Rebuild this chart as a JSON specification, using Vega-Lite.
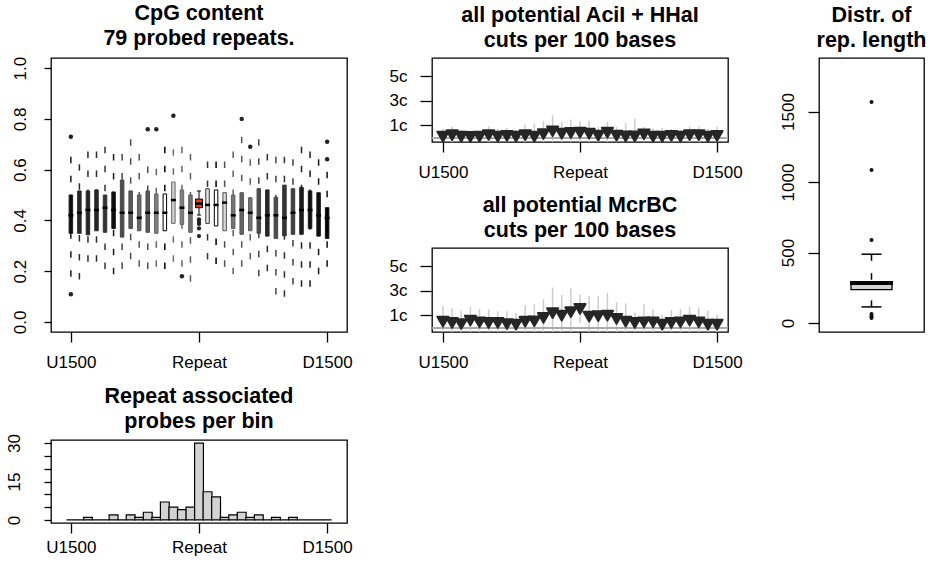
{
  "$schema": "https://vega.github.io/schema/vega-lite/v6.json",
  "padding": {"left": 4, "top": 2, "right": 0, "bottom": 0},
  "autosize": {"type": "pad"},
  "background": "white",
  "config": {
    "view": {"stroke": "#000000", "strokeWidth": 1.3},
    "axis": {"grid": false, "domain": false, "labelFont": "Liberation Sans", "labelFontSize": 17, "labelColor": "#000000", "tickColor": "#000000", "tickWidth": 1.3, "labelFlush": false, "labelOverlap": false},
    "title": {"font": "Liberation Sans", "fontSize": 21.5, "fontWeight": "bold", "color": "#000000", "lineHeight": 25, "anchor": "middle", "frame": "group", "offset": 7}
  },
  "datasets": {
    "cpg": [
      {"bin":1,"lo":0.178,"q1":0.349,"med":0.42,"q3":0.50,"hi":0.651,"level":0.05},
      {"bin":2,"lo":0.167,"q1":0.349,"med":0.43,"q3":0.516,"hi":0.621,"level":0.15},
      {"bin":3,"lo":0.237,"q1":0.343,"med":0.441,"q3":0.516,"hi":0.671,"level":0.15},
      {"bin":4,"lo":0.237,"q1":0.359,"med":0.441,"q3":0.52,"hi":0.671,"level":0.15},
      {"bin":5,"lo":0.208,"q1":0.353,"med":0.45,"q3":0.50,"hi":0.69,"level":0.2},
      {"bin":6,"lo":0.188,"q1":0.368,"med":0.441,"q3":0.512,"hi":0.662,"level":0.05},
      {"bin":7,"lo":0.208,"q1":0.334,"med":0.43,"q3":0.559,"hi":0.662,"level":0.3},
      {"bin":8,"lo":0.247,"q1":0.368,"med":0.43,"q3":0.516,"hi":0.72,"level":0.35},
      {"bin":9,"lo":0.217,"q1":0.359,"med":0.41,"q3":0.50,"hi":0.662,"level":0.4},
      {"bin":10,"lo":0.208,"q1":0.353,"med":0.43,"q3":0.516,"hi":0.612,"level":0.35},
      {"bin":11,"lo":0.217,"q1":0.349,"med":0.43,"q3":0.504,"hi":0.603,"level":0.5},
      {"bin":12,"lo":0.208,"q1":0.359,"med":0.43,"q3":0.504,"hi":0.69,"level":1.0},
      {"bin":13,"lo":0.237,"q1":0.388,"med":0.48,"q3":0.551,"hi":0.68,"level":0.8},
      {"bin":14,"lo":0.217,"q1":0.384,"med":0.45,"q3":0.52,"hi":0.69,"level":0.5},
      {"bin":15,"lo":0.158,"q1":0.353,"med":0.43,"q3":0.50,"hi":0.662,"level":0.45},
      {"bin":17,"lo":0.246,"q1":0.388,"med":0.461,"q3":0.525,"hi":0.632,"level":0.9},
      {"bin":18,"lo":0.228,"q1":0.378,"med":0.461,"q3":0.52,"hi":0.632,"level":1.0},
      {"bin":19,"lo":0.217,"q1":0.359,"med":0.47,"q3":0.509,"hi":0.632,"level":0.85},
      {"bin":20,"lo":0.188,"q1":0.368,"med":0.42,"q3":0.50,"hi":0.671,"level":0.45},
      {"bin":21,"lo":0.217,"q1":0.345,"med":0.441,"q3":0.509,"hi":0.73,"level":0.4},
      {"bin":22,"lo":0.246,"q1":0.359,"med":0.43,"q3":0.489,"hi":0.641,"level":0.45},
      {"bin":23,"lo":0.18,"q1":0.349,"med":0.41,"q3":0.525,"hi":0.72,"level":0.3},
      {"bin":24,"lo":0.199,"q1":0.338,"med":0.42,"q3":0.52,"hi":0.662,"level":0.15},
      {"bin":25,"lo":0.108,"q1":0.329,"med":0.42,"q3":0.491,"hi":0.651,"level":0.3},
      {"bin":26,"lo":0.099,"q1":0.339,"med":0.41,"q3":0.539,"hi":0.651,"level":0.2},
      {"bin":27,"lo":0.147,"q1":0.345,"med":0.43,"q3":0.525,"hi":0.641,"level":0.25},
      {"bin":28,"lo":0.138,"q1":0.345,"med":0.441,"q3":0.53,"hi":0.69,"level":0.1},
      {"bin":29,"lo":0.138,"q1":0.368,"med":0.441,"q3":0.516,"hi":0.671,"level":0.05},
      {"bin":30,"lo":0.188,"q1":0.338,"med":0.42,"q3":0.509,"hi":0.641,"level":0.05},
      {"bin":31,"lo":0.217,"q1":0.329,"med":0.41,"q3":0.45,"hi":0.592,"level":0.0}
    ],
    "cpgOut": [
      {"bin":1,"value":0.73},{"bin":1,"value":0.109},{"bin":10,"value":0.759},{"bin":11,"value":0.759},
      {"bin":13,"value":0.812},{"bin":14,"value":0.18},{"bin":21,"value":0.80},{"bin":22,"value":0.69},
      {"bin":31,"value":0.71},{"bin":31,"value":0.641}
    ],
    "rep": [{"bin":16,"lo":0.421,"q1":0.45,"med":0.466,"q3":0.484,"hi":0.516}],
    "repOut": [{"bin":16,"value":0.404},{"bin":16,"value":0.395},{"bin":16,"value":0.386},{"bin":16,"value":0.368},{"bin":16,"value":0.338}],
    "aci": [
      {"bin":1,"v":0.10,"lo":-0.53,"hi":0.73},{"bin":2,"v":0.21,"lo":-0.50,"hi":0.92},{"bin":3,"v":0.10,"lo":-0.45,"hi":0.65},
      {"bin":4,"v":0.07,"lo":-0.41,"hi":0.55},{"bin":5,"v":0.10,"lo":-0.35,"hi":0.55},{"bin":6,"v":0.23,"lo":-0.49,"hi":0.95},
      {"bin":7,"v":0.10,"lo":-0.53,"hi":0.73},{"bin":8,"v":0.15,"lo":-0.50,"hi":0.80},{"bin":9,"v":0.10,"lo":-0.45,"hi":0.65},
      {"bin":10,"v":0.21,"lo":-0.66,"hi":1.08},{"bin":11,"v":0.10,"lo":-0.93,"hi":1.13},{"bin":12,"v":0.31,"lo":-0.71,"hi":1.33},
      {"bin":13,"v":0.53,"lo":-0.78,"hi":1.84},{"bin":14,"v":0.34,"lo":-0.62,"hi":1.30},{"bin":15,"v":0.40,"lo":-0.69,"hi":1.49},
      {"bin":16,"v":0.42,"lo":-0.49,"hi":1.33},{"bin":17,"v":0.34,"lo":-0.68,"hi":1.36},{"bin":18,"v":0.18,"lo":-0.54,"hi":0.90},
      {"bin":19,"v":0.42,"lo":-0.46,"hi":1.30},{"bin":20,"v":0.18,"lo":-0.51,"hi":0.87},{"bin":21,"v":0.12,"lo":-0.96,"hi":1.20},
      {"bin":22,"v":0.12,"lo":-1.30,"hi":1.54},{"bin":23,"v":0.29,"lo":-0.29,"hi":0.87},{"bin":24,"v":0.10,"lo":-0.53,"hi":0.73},
      {"bin":25,"v":0.10,"lo":-0.60,"hi":0.80},{"bin":26,"v":0.15,"lo":-0.43,"hi":0.73},{"bin":27,"v":0.10,"lo":-0.45,"hi":0.65},
      {"bin":28,"v":0.21,"lo":-0.50,"hi":0.92},{"bin":29,"v":0.21,"lo":-0.50,"hi":0.92},{"bin":30,"v":0.10,"lo":-0.53,"hi":0.73},
      {"bin":31,"v":0.15,"lo":-0.62,"hi":0.92}
    ],
    "mcr": [
      {"bin":1,"v":0.50,"lo":-0.76,"hi":1.76},{"bin":2,"v":0.40,"lo":-0.77,"hi":1.57},{"bin":3,"v":0.31,"lo":-0.79,"hi":1.41},
      {"bin":4,"v":0.59,"lo":-0.53,"hi":1.71},{"bin":5,"v":0.45,"lo":-0.59,"hi":1.49},{"bin":6,"v":0.40,"lo":-0.69,"hi":1.49},
      {"bin":7,"v":0.40,"lo":-0.55,"hi":1.35},{"bin":8,"v":0.31,"lo":-0.73,"hi":1.35},{"bin":9,"v":0.26,"lo":-0.70,"hi":1.22},
      {"bin":10,"v":0.50,"lo":-0.84,"hi":1.84},{"bin":11,"v":0.53,"lo":-0.84,"hi":1.90},{"bin":12,"v":0.80,"lo":-0.71,"hi":2.31},
      {"bin":13,"v":1.19,"lo":-0.88,"hi":3.26},{"bin":14,"v":0.99,"lo":-0.68,"hi":2.66},{"bin":15,"v":1.27,"lo":-0.64,"hi":3.18},
      {"bin":16,"v":1.54,"lo":0.37,"hi":2.71},{"bin":17,"v":0.91,"lo":-0.76,"hi":2.58},{"bin":18,"v":0.94,"lo":-0.70,"hi":2.58},
      {"bin":19,"v":0.99,"lo":-0.87,"hi":2.85},{"bin":20,"v":0.72,"lo":-0.65,"hi":2.09},{"bin":21,"v":0.50,"lo":-0.98,"hi":1.98},
      {"bin":22,"v":0.40,"lo":-0.42,"hi":1.22},{"bin":23,"v":0.45,"lo":-1.00,"hi":1.90},{"bin":24,"v":0.45,"lo":-0.59,"hi":1.49},
      {"bin":25,"v":0.26,"lo":-0.51,"hi":1.03},{"bin":26,"v":0.40,"lo":-0.64,"hi":1.44},{"bin":27,"v":0.45,"lo":-0.59,"hi":1.49},
      {"bin":28,"v":0.59,"lo":-0.53,"hi":1.71},{"bin":29,"v":0.45,"lo":-0.73,"hi":1.63},{"bin":30,"v":0.26,"lo":-0.89,"hi":1.41},
      {"bin":31,"v":0.26,"lo":-0.51,"hi":1.03}
    ],
    "len": [{"g":1,"lo":114,"q1":237,"med":284,"q3":287,"hi":488}],
    "lenOut": [{"g":1,"value":1567},{"g":1,"value":1086},{"g":1,"value":588},{"g":1,"value":64},{"g":1,"value":47},{"g":1,"value":36}],
    "hist": [
      {"bin":1,"count":0},{"bin":2,"count":0},{"bin":3,"count":1},{"bin":4,"count":0},{"bin":5,"count":0},
      {"bin":6,"count":2},{"bin":7,"count":0},{"bin":8,"count":2},{"bin":9,"count":1},{"bin":10,"count":3},
      {"bin":11,"count":1},{"bin":12,"count":7},{"bin":13,"count":5},{"bin":14,"count":4},{"bin":15,"count":5},
      {"bin":16,"count":30},{"bin":17,"count":11},{"bin":18,"count":9},{"bin":19,"count":1},{"bin":20,"count":2},
      {"bin":21,"count":3},{"bin":22,"count":1},{"bin":23,"count":2},{"bin":24,"count":0},{"bin":25,"count":1},
      {"bin":26,"count":0},{"bin":27,"count":1},{"bin":28,"count":0},{"bin":29,"count":0},{"bin":30,"count":0},
      {"bin":31,"count":0}
    ]
  },
  "spacing": 35,
  "hconcat": [
    {
      "bounds": "flush",
      "spacing": 108,
      "vconcat": [
        {
          "width": 296,
          "height": 274,
          "title": {"text": ["CpG content", "79 probed repeats."]},
          "layer": [
            {
              "data": {"name": "cpg"},
              "mark": {"type": "rule", "strokeDash": [6.5, 12.5], "strokeWidth": 1.5},
              "encoding": {
                "x": {"field": "bin", "type": "quantitative", "title": null,
                      "scale": {"domain": [-0.74, 32.74], "nice": false, "zero": false},
                      "axis": {"values": [1, 16, 31], "labelExpr": "datum.value == 1 ? 'U1500' : datum.value == 16 ? 'Repeat' : 'D1500'", "tickSize": 10, "labelPadding": 12}},
                "y": {"field": "hi", "type": "quantitative", "title": null,
                      "scale": {"domain": [-0.04, 1.04], "nice": false, "zero": false},
                      "axis": {"values": [0, 0.2, 0.4, 0.6, 0.8, 1], "format": ".1f", "labelAngle": -90, "labelAlign": "center", "labelBaseline": "bottom", "tickSize": 7, "labelPadding": 15}},
                "y2": {"field": "q3"},
                "stroke": {"field": "level", "type": "quantitative", "legend": null,
                           "scale": {"domain": [0, 0.6, 0.75, 0.9, 1], "range": ["#111111", "#777777", "#8a8a8a", "#333333", "#000000"], "interpolate": "rgb"}}
              }
            },
            {
              "data": {"name": "cpg"},
              "mark": {"type": "rule", "strokeDash": [6.5, 12.5], "strokeWidth": 1.5},
              "encoding": {
                "x": {"field": "bin", "type": "quantitative", "title": null},
                "y": {"field": "lo", "type": "quantitative", "title": null},
                "y2": {"field": "q1"},
                "stroke": {"field": "level", "type": "quantitative", "legend": null,
                           "scale": {"domain": [0, 0.6, 0.75, 0.9, 1], "range": ["#111111", "#777777", "#8a8a8a", "#333333", "#000000"], "interpolate": "rgb"}}
              }
            },
            {
              "data": {"name": "cpg"},
              "mark": {"type": "bar", "width": 3.5, "strokeWidth": 1},
              "encoding": {
                "x": {"field": "bin", "type": "quantitative", "title": null},
                "y": {"field": "q1", "type": "quantitative", "title": null},
                "y2": {"field": "q3"},
                "fill": {"field": "level", "type": "quantitative", "legend": null,
                         "scale": {"domain": [0, 1], "range": ["#000000", "#ffffff"], "interpolate": "rgb"}},
                "stroke": {"field": "level", "type": "quantitative", "legend": null,
                           "scale": {"domain": [0, 0.6, 0.75, 0.9, 1], "range": ["#111111", "#777777", "#8a8a8a", "#333333", "#000000"], "interpolate": "rgb"}}
              }
            },
            {
              "data": {"name": "cpg"},
              "mark": {"type": "tick", "orient": "horizontal", "size": 5, "thickness": 2.5, "color": "#000000", "opacity": 1},
              "encoding": {
                "x": {"field": "bin", "type": "quantitative", "title": null},
                "y": {"field": "med", "type": "quantitative", "title": null}
              }
            },
            {
              "data": {"name": "cpgOut"},
              "mark": {"type": "point", "filled": true, "size": 20, "color": "#222222", "opacity": 1},
              "encoding": {
                "x": {"field": "bin", "type": "quantitative", "title": null},
                "y": {"field": "value", "type": "quantitative", "title": null}
              }
            },
            {
              "data": {"name": "rep"},
              "mark": {"type": "rule", "color": "#000000", "strokeWidth": 1},
              "encoding": {
                "x": {"field": "bin", "type": "quantitative", "title": null},
                "y": {"field": "lo", "type": "quantitative", "title": null},
                "y2": {"field": "hi"}
              }
            },
            {
              "data": {"name": "rep"},
              "mark": {"type": "tick", "orient": "horizontal", "size": 4, "thickness": 1, "color": "#000000", "opacity": 1},
              "encoding": {
                "x": {"field": "bin", "type": "quantitative", "title": null},
                "y": {"field": "hi", "type": "quantitative", "title": null}
              }
            },
            {
              "data": {"name": "rep"},
              "mark": {"type": "tick", "orient": "horizontal", "size": 4, "thickness": 1, "color": "#000000", "opacity": 1},
              "encoding": {
                "x": {"field": "bin", "type": "quantitative", "title": null},
                "y": {"field": "lo", "type": "quantitative", "title": null}
              }
            },
            {
              "data": {"name": "rep"},
              "mark": {"type": "bar", "width": 7, "fill": "#e63c1e", "stroke": "#000000", "strokeWidth": 1},
              "encoding": {
                "x": {"field": "bin", "type": "quantitative", "title": null},
                "y": {"field": "q1", "type": "quantitative", "title": null},
                "y2": {"field": "q3"}
              }
            },
            {
              "data": {"name": "rep"},
              "mark": {"type": "tick", "orient": "horizontal", "size": 7, "thickness": 2.5, "color": "#000000", "opacity": 1},
              "encoding": {
                "x": {"field": "bin", "type": "quantitative", "title": null},
                "y": {"field": "med", "type": "quantitative", "title": null}
              }
            },
            {
              "data": {"name": "repOut"},
              "mark": {"type": "point", "filled": true, "size": 18, "color": "#222222", "opacity": 1},
              "encoding": {
                "x": {"field": "bin", "type": "quantitative", "title": null},
                "y": {"field": "value", "type": "quantitative", "title": null}
              }
            }
          ]
        },
        {
          "width": 296,
          "height": 83,
          "title": {"text": ["Repeat associated", "probes per bin"], "offset": 1},
          "data": {"name": "hist"},
          "mark": {"type": "bar", "width": 8.84, "fill": "#d3d3d3", "stroke": "#000000", "strokeWidth": 1.2},
          "encoding": {
            "x": {"field": "bin", "type": "quantitative", "title": null,
                  "scale": {"domain": [-0.74, 32.74], "nice": false, "zero": false},
                  "axis": {"values": [1, 16, 31], "labelExpr": "datum.value == 1 ? 'U1500' : datum.value == 16 ? 'Repeat' : 'D1500'", "tickSize": 10, "labelPadding": 6}},
            "y": {"field": "count", "type": "quantitative", "title": null,
                  "scale": {"domain": [-1.2, 31.2], "nice": false, "zero": false},
                  "axis": {"values": [0, 5, 10, 15, 20, 25, 30], "labelExpr": "datum.value % 15 == 0 ? datum.label : ''", "labelAngle": -90, "labelAlign": "center", "labelBaseline": "bottom", "tickSize": 7, "labelPadding": 21}},
            "y2": {"datum": 0}
          }
        }
      ]
    },
    {
      "bounds": "flush",
      "spacing": 106,
      "vconcat": [
        {
          "width": 296,
          "height": 84,
          "title": {"text": ["all potential AciI + HHaI", "cuts per 100 bases"]},
          "data": {"name": "aci"},
          "layer": [
            {
              "mark": {"type": "rule", "color": "#cccccc", "strokeWidth": 1.5, "clip": true},
              "encoding": {
                "x": {"field": "bin", "type": "quantitative", "title": null,
                      "scale": {"domain": [-0.2, 32.2], "nice": false, "zero": false},
                      "axis": {"values": [1, 16, 31], "labelExpr": "datum.value == 1 ? 'U1500' : datum.value == 16 ? 'Repeat' : 'D1500'", "tickSize": 10, "labelPadding": 12}},
                "y": {"field": "lo", "type": "quantitative", "title": null,
                      "scale": {"domain": [-0.34, 6.47], "nice": false, "zero": false},
                      "axis": {"values": [1, 3, 5], "labelExpr": "datum.value + 'c'", "tickSize": 12, "labelPadding": 13}},
                "y2": {"field": "hi"}
              }
            },
            {
              "mark": {"type": "rule", "color": "#aaaaaa", "strokeWidth": 1},
              "encoding": {"y": {"datum": 0, "type": "quantitative"}}
            },
            {
              "mark": {"type": "point", "shape": "triangle-down", "filled": true, "size": 125, "color": "#262626", "stroke": "#262626", "strokeWidth": 2, "strokeJoin": "round", "opacity": 1},
              "encoding": {
                "x": {"field": "bin", "type": "quantitative", "title": null},
                "y": {"field": "v", "type": "quantitative", "title": null}
              }
            }
          ]
        },
        {
          "width": 296,
          "height": 84,
          "title": {"text": ["all potential McrBC", "cuts per 100 bases"]},
          "data": {"name": "mcr"},
          "layer": [
            {
              "mark": {"type": "rule", "color": "#cccccc", "strokeWidth": 1.5, "clip": true},
              "encoding": {
                "x": {"field": "bin", "type": "quantitative", "title": null,
                      "scale": {"domain": [-0.2, 32.2], "nice": false, "zero": false},
                      "axis": {"values": [1, 16, 31], "labelExpr": "datum.value == 1 ? 'U1500' : datum.value == 16 ? 'Repeat' : 'D1500'", "tickSize": 10, "labelPadding": 12}},
                "y": {"field": "lo", "type": "quantitative", "title": null,
                      "scale": {"domain": [-0.34, 6.47], "nice": false, "zero": false},
                      "axis": {"values": [1, 3, 5], "labelExpr": "datum.value + 'c'", "tickSize": 12, "labelPadding": 13}},
                "y2": {"field": "hi"}
              }
            },
            {
              "mark": {"type": "rule", "color": "#aaaaaa", "strokeWidth": 1},
              "encoding": {"y": {"datum": 0, "type": "quantitative"}}
            },
            {
              "mark": {"type": "point", "shape": "triangle-down", "filled": true, "size": 125, "color": "#262626", "stroke": "#262626", "strokeWidth": 2, "strokeJoin": "round", "opacity": 1},
              "encoding": {
                "x": {"field": "bin", "type": "quantitative", "title": null},
                "y": {"field": "v", "type": "quantitative", "title": null}
              }
            }
          ]
        }
      ]
    },
    {
      "width": 105,
      "height": 274,
      "title": {"text": ["Distr. of", "rep. length"]},
      "layer": [
        {
          "data": {"name": "len"},
          "mark": {"type": "rule", "strokeDash": [6.5, 12.5], "strokeWidth": 1.5, "color": "#000000"},
          "encoding": {
            "x": {"field": "g", "type": "quantitative", "title": null, "axis": null,
                  "scale": {"domain": [0.46, 1.54], "nice": false, "zero": false}},
            "y": {"field": "hi", "type": "quantitative", "title": null,
                  "scale": {"domain": [-64, 1880], "nice": false, "zero": false},
                  "axis": {"values": [0, 500, 1000, 1500], "format": "d", "labelAngle": -90, "labelAlign": "center", "labelBaseline": "bottom", "tickSize": 11, "labelPadding": 11}},
            "y2": {"field": "q3"}
          }
        },
        {
          "data": {"name": "len"},
          "mark": {"type": "rule", "strokeDash": [6.5, 12.5], "strokeWidth": 1.5, "color": "#000000"},
          "encoding": {
            "x": {"field": "g", "type": "quantitative", "title": null, "axis": null},
            "y": {"field": "lo", "type": "quantitative", "title": null},
            "y2": {"field": "q1"}
          }
        },
        {
          "data": {"name": "len"},
          "mark": {"type": "tick", "orient": "horizontal", "size": 20, "thickness": 1.5, "color": "#000000", "opacity": 1},
          "encoding": {
            "x": {"field": "g", "type": "quantitative", "title": null, "axis": null},
            "y": {"field": "hi", "type": "quantitative", "title": null}
          }
        },
        {
          "data": {"name": "len"},
          "mark": {"type": "tick", "orient": "horizontal", "size": 20, "thickness": 1.5, "color": "#000000", "opacity": 1},
          "encoding": {
            "x": {"field": "g", "type": "quantitative", "title": null, "axis": null},
            "y": {"field": "lo", "type": "quantitative", "title": null}
          }
        },
        {
          "data": {"name": "len"},
          "mark": {"type": "bar", "width": 41, "fill": "#d3d3d3", "stroke": "#000000", "strokeWidth": 1.3},
          "encoding": {
            "x": {"field": "g", "type": "quantitative", "title": null, "axis": null},
            "y": {"field": "q1", "type": "quantitative", "title": null},
            "y2": {"field": "q3"}
          }
        },
        {
          "data": {"name": "len"},
          "mark": {"type": "tick", "orient": "horizontal", "size": 43, "thickness": 4, "color": "#000000", "opacity": 1},
          "encoding": {
            "x": {"field": "g", "type": "quantitative", "title": null, "axis": null},
            "y": {"field": "med", "type": "quantitative", "title": null}
          }
        },
        {
          "data": {"name": "lenOut"},
          "mark": {"type": "point", "filled": true, "size": 16, "color": "#111111", "opacity": 1},
          "encoding": {
            "x": {"field": "g", "type": "quantitative", "title": null, "axis": null},
            "y": {"field": "value", "type": "quantitative", "title": null}
          }
        }
      ]
    }
  ]
}
